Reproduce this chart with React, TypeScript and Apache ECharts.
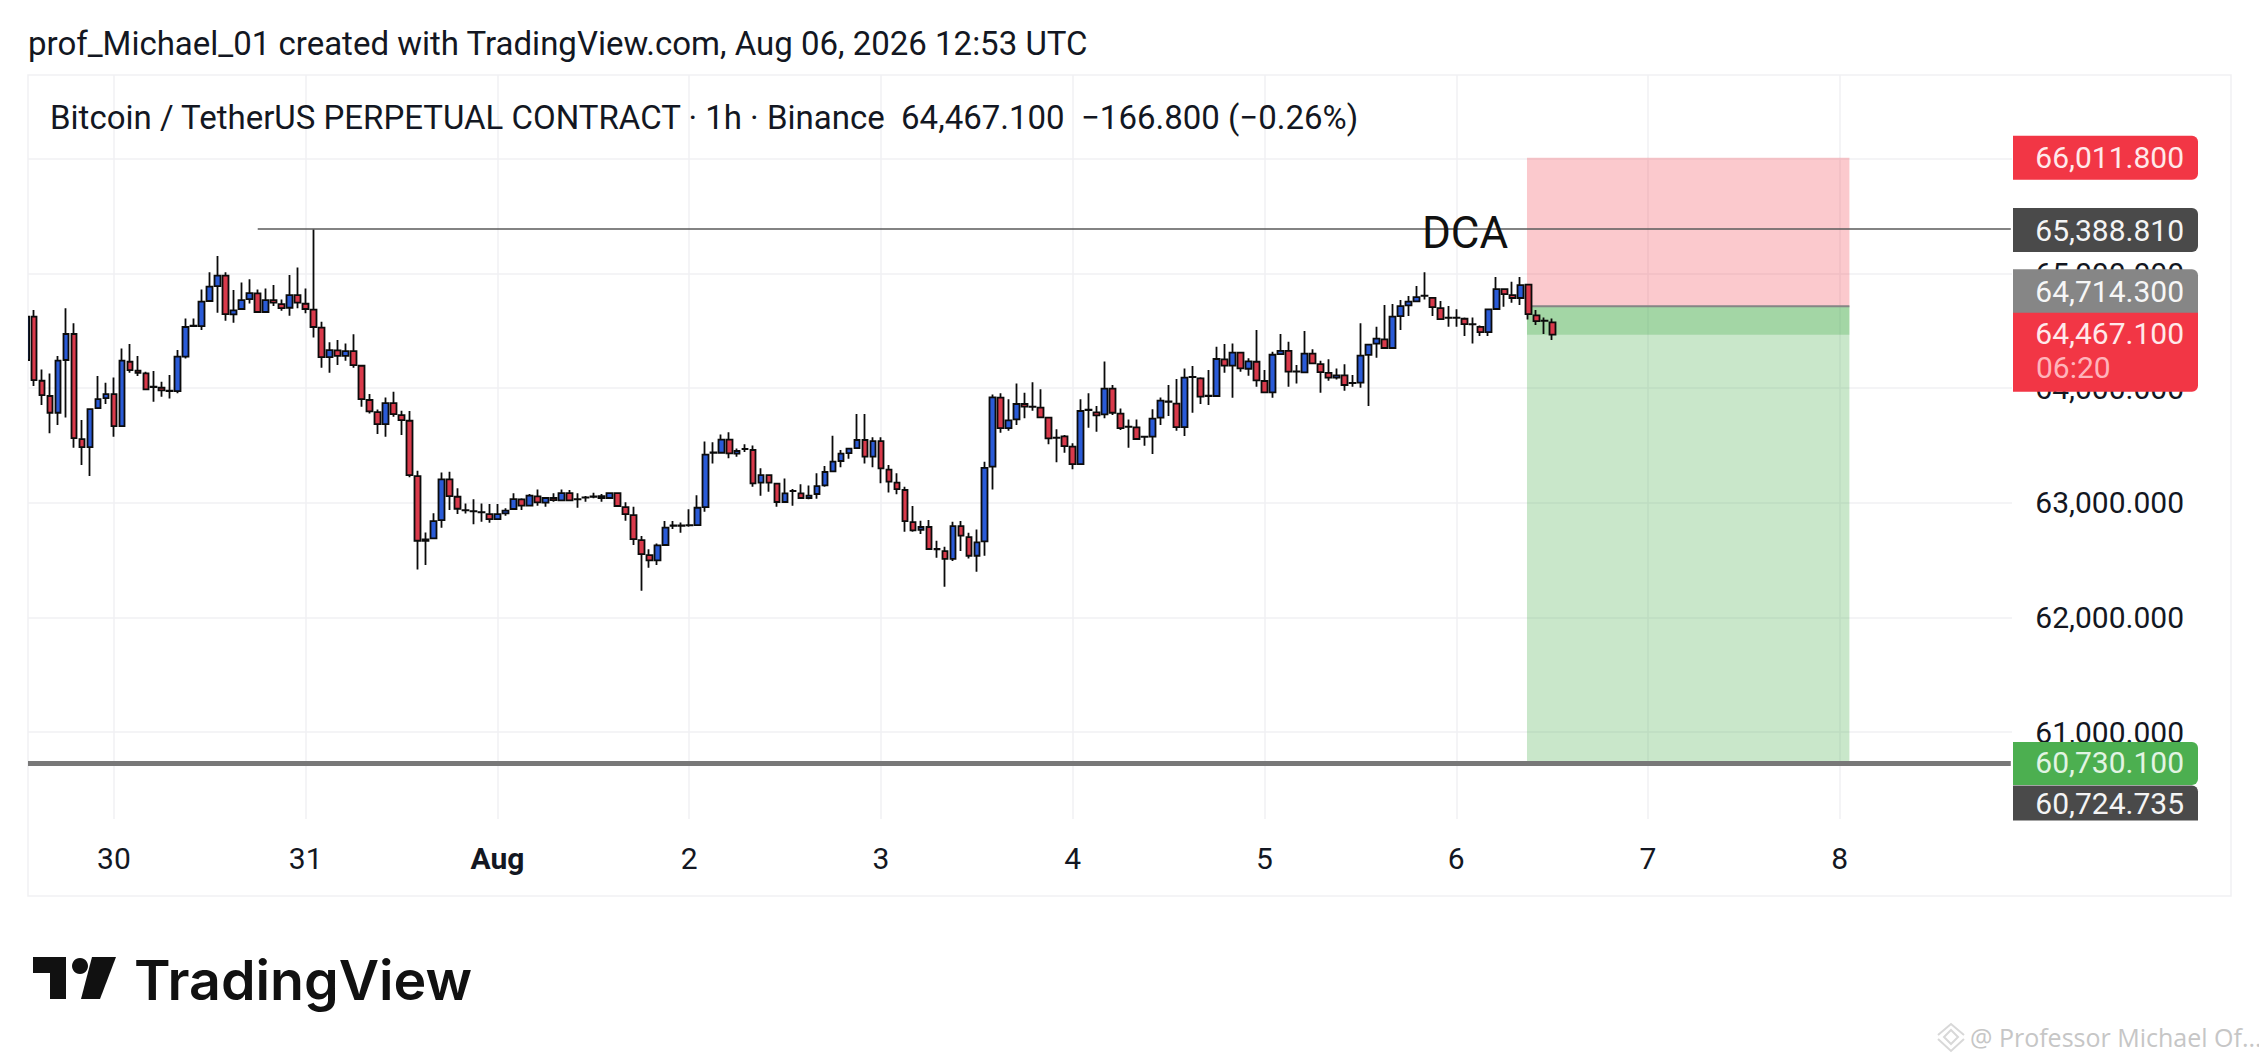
import React, { useEffect, useRef } from "react";
import * as echarts from "echarts";

// ---- data (1h candles; first value is the clipped candle at the left edge) ----
const firstIndex = -1;
const opens = [64246,64624,64065,63932,63786,64246,64473,63556,63486,63827,63914,63949,63670,64231,64153,64129,64013,64004,63978,63975,64275,64542,64542,64761,64891,64982,64644,64691,64778,64827,64665,64769,64734,64702,64813,64737,64685,64528,64272,64330,64283,64324,64196,63897,63792,63687,63870,63766,63716,63233,62681,62689,62849,63204,63053,62937,62928,62919,62902,62858,
62908,62946,63030,62975,63056,63001,63042,63021,63085,63032,63047,63053,63059,63042,63085,62963,62893,62675,62544,62498,62632,62800,62800,62803,62806,62963,63437,63437,63551,63429,63470,63461,63176,63242,63167,63007,63103,63083,63042,63077,63152,63275,63365,63434,63478,63548,63403,63539,63289,63176,63112,62832,62765,62789,62597,62579,62510,62797,62701,62538,62664,
63315,63917,63652,63728,63862,63839,63830,63743,63568,63580,63490,63338,63810,63789,63772,63996,63778,63664,63658,63578,63577,63743,63882,63865,63661,64097,64086,63932,63932,64252,64197,64310,64170,64231,64063,63964,64298,64325,64144,64138,64301,64211,64133,64092,64112,64045,64048,64290,64389,64426,64351,
64629,64723,64757,64807,64789,64699,64615,64615,64606,64560,64536,64490,64691,64865,64813,64787,64903,64635,64590,64574];
const closes = [64624,64071,63940,63786,64240,64473,63565,63486,63818,63905,63949,63670,64240,64158,64135,63990,64010,63981,63975,64275,64534,64546,64755,64886,64982,64647,64679,64769,64830,64665,64769,64746,64699,64813,64746,64691,64534,64272,64333,64283,64324,64202,63905,63798,63687,63870,63774,63722,63242,62669,62669,62841,63204,63059,62948,62934,62925,62916,62858,62902,
62931,63033,62975,63062,63004,63042,63024,63085,63021,63030,63045,63055,63042,63085,62972,62902,62684,62553,62498,62629,62783,62802,62802,62805,62957,63420,63439,63551,63432,63452,63468,63170,63242,63176,63007,63083,63105,63042,63062,63146,63269,63359,63429,63472,63548,63403,63539,63301,63184,63120,62841,62760,62789,62597,62595,62510,62797,62713,62538,62655,63304,
63920,63652,63719,63862,63839,63837,63746,63562,63566,63495,63338,63801,63812,63763,63996,63786,63652,63662,63557,63576,63734,63891,63884,63661,64092,64099,63926,63934,64255,64197,64310,64173,64234,64069,63964,64292,64325,64144,64146,64301,64217,64141,64092,64112,64028,64047,64284,64380,64432,64351,64624,
64717,64755,64795,64805,64708,64603,64613,64613,64560,64558,64490,64688,64865,64821,64787,64900,64647,64586,64588,64467];
const lows = [64246,64019,63853,63606,63678,63745,63481,63329,63233,63827,63862,63577,63670,64135,64106,63984,63882,63926,63911,63955,64260,64542,64507,64761,64659,64589,64571,64691,64740,64665,64665,64717,64676,64633,64697,64653,64443,64179,64135,64202,64240,64179,63838,63780,63600,63577,63751,63591,63222,62419,62457,62681,62782,62937,62902,62907,62814,62835,62826,62849,
62888,62946,62937,62975,62975,62966,63010,63021,63018,62957,63010,63039,63010,63042,62972,62844,62632,62233,62434,62457,62632,62771,62739,62792,62806,62923,63344,63437,63388,63403,63443,63141,63062,63097,62966,63007,62975,63036,63030,63036,63141,63272,63310,63385,63469,63344,63310,63170,63091,63074,62748,62748,62728,62588,62521,62268,62492,62579,62515,62399,62538,
63117,63612,63629,63679,63737,63804,63737,63510,63353,63437,63292,63338,63655,63620,63737,63766,63635,63481,63548,63498,63426,63679,63757,63629,63583,63786,63862,63853,63932,64135,63917,64144,64109,64013,63955,63917,64298,64013,64042,64135,64211,63961,64066,64077,63978,64013,64004,63845,64266,64351,64351,
64507,64629,64757,64775,64629,64603,64536,64536,64455,64391,64455,64455,64688,64711,64746,64725,64600,64551,64472,64420];
const highs = [64624,64682,64164,64129,64281,64697,64566,63722,63818,64106,64048,64094,64347,64385,64281,64144,64150,64057,64115,64333,64609,64609,64862,65011,65153,65011,64857,64923,64950,64862,64871,64900,64775,64987,65054,64871,65388,64580,64400,64420,64391,64470,64196,63949,63815,63920,63969,63803,63801,63280,62742,62908,63265,63271,63126,62995,63030,62995,62989,62989,
62952,63083,63039,63077,63117,63042,63083,63117,63112,63083,63059,63088,63077,63085,63085,63004,62966,62710,62594,62646,62841,62841,62829,62943,63065,63536,63528,63597,63615,63475,63510,63501,63301,63242,63167,63213,63120,63161,63152,63257,63321,63586,63461,63475,63775,63775,63571,63571,63330,63257,63141,62972,62844,62850,62669,62617,62835,62841,62739,62768,63359,
63946,63955,63903,64042,63961,64051,63990,63751,63641,63591,63519,63903,63955,63845,64234,64028,63824,63728,63728,63578,63816,63920,64028,64080,64173,64194,64095,64159,64362,64386,64391,64310,64261,64508,64159,64319,64473,64406,64202,64499,64339,64240,64252,64173,64208,64115,64566,64380,64537,64726,64735,
64769,64804,64891,65011,64789,64760,64717,64688,64618,64618,64548,64696,64970,64865,64929,64970,64903,64682,64618,64609];

const yTickValues = [61000, 62000, 63000, 64000, 65000, 66000];
const xTickIndices = [10, 34, 58, 82, 106, 130, 154, 178, 202, 226];
const xTickLabels = ["30", "31", "Aug", "2", "3", "4", "5", "6", "7", "8"];

const stopPrice = 66011.8;
const entryPrice = 64714.3;
const lastPrice = 64467.1;
const targetPrice = 60730.1;
const dcaPrice = 65388.81;
const supportPrice = 60724.735;
const positionStart = 186.85;
const positionEnd = 227.2;
const dcaStart = 28;
const dcaLabelAt = 179.1;

const tagPrices = [stopPrice, dcaPrice, entryPrice, lastPrice, targetPrice, supportPrice];
const tagTexts = ["66,011.800", "65,388.810", "64,714.300", "64,467.100", "60,730.100", "60,724.735"];
const tagColors = ["#f23645", "#4a4a4a", "#868686", "#f23645", "#4caf50", "#4a4a4a"];
const tagTextColors = ["#ffe9ea", "#f4f4f4", "#f6f6f6", "#ffe9ea", "#e2f4e3", "#f4f4f4"];
const countdownText = "06:20";

const titleText = "prof_Michael_01 created with TradingView.com, Aug 06, 2026 12:53 UTC";
const headerText = "Bitcoin / TetherUS PERPETUAL CONTRACT · 1h · Binance  64,467.100  −166.800 (−0.26%)";
const logoText = "TradingView";
const watermarkText = "@ Professor Michael Of...";
const dcaText = "DCA";

// ---- layout ----
const FONT = "Roboto";
const gridBox = { left: 28, right: 2259 - 2012, top: 75, bottom: 1062 - 819 };
// offset from the price's own coordinate, height and text centre of each price tag
const tagLayout = [
  { top: -22, h: 44, r: [0, 6, 6, 0], textAt: 22 },
  { top: -21, h: 44, r: [0, 6, 6, 0], textAt: 22 },
  { top: -37, h: 44, r: [0, 6, 0, 0], textAt: 22 },
  { top: -22, h: 79, r: [0, 0, 6, 0], textAt: 21 },
  { top: -21, h: 43, r: [0, 6, 6, 0], textAt: 21 },
  { top: 22, h: 35, r: [0, 6, 0, 0], textAt: 18 },
];

function areaSeries(x0: number, x1: number, y0: number, y1: number, fill: string, z: number) {
  return {
    type: "custom",
    silent: true,
    z,
    data: [[x0, y0, x1, y1]],
    encode: { x: [0, 2], y: [1, 3] },
    renderItem: (_: any, api: any) => {
      const a = api.coord([api.value(0), api.value(1)]);
      const b = api.coord([api.value(2), api.value(3)]);
      return { type: "rect", shape: { x: a[0], y: a[1], width: b[0] - a[0], height: b[1] - a[1] }, style: { fill } };
    },
  };
}

function lineSeries(x0: number, x1: number, y: number, stroke: string, lineWidth: number, z: number) {
  return {
    type: "custom",
    silent: true,
    z,
    data: [[x0, y, x1]],
    encode: { x: [0, 2], y: 1 },
    renderItem: (_: any, api: any) => {
      const a = api.coord([api.value(0), api.value(1)]);
      const b = api.coord([api.value(2), api.value(1)]);
      return { type: "line", shape: { x1: a[0], y1: a[1], x2: b[0], y2: b[1] }, style: { stroke, lineWidth } };
    },
  };
}

// the candle cut by the left edge of the plot: a candlestick series does not clip its boxes
function clippedCandleSeries(row: number[]) {
  return {
    type: "custom",
    silent: true,
    z: 3,
    clip: true,
    data: [row],
    encode: { x: 0, y: [1, 2] },
    renderItem: (_: any, api: any) => {
      const a = api.coord([api.value(0), api.value(1)]);
      const b = api.coord([api.value(0), api.value(2)]);
      return {
        type: "rect",
        shape: { x: a[0] - 3.1, y: b[1], width: 6.2, height: a[1] - b[1] },
        style: { fill: "#2a5bd7", stroke: "#0b0b0b", lineWidth: 1.8 },
      };
    },
  };
}

function tagSeries() {
  return {
    type: "custom",
    silent: true,
    z: 20,
    clip: false,
    data: tagPrices.map((p, k) => [0, p, k]),
    encode: { y: 1 },
    renderItem: (_: any, api: any) => {
      const k = api.value(2);
      const l = tagLayout[k];
      const y = api.coord([0, api.value(1)])[1];
      const top = y + l.top;
      const font = `30px ${FONT}`;
      const children: any[] = [
        { type: "rect", shape: { x: 2013, y: top, width: 185, height: l.h, r: l.r }, style: { fill: tagColors[k] } },
        {
          type: "text",
          style: { text: tagTexts[k], x: 2184, y: top + l.textAt, fill: tagTextColors[k], font, align: "right", verticalAlign: "middle" },
        },
      ];
      if (k === 3) {
        children.push({
          type: "text",
          style: { text: countdownText, x: 2036, y: top + 55, fill: "#ffb4ba", font, align: "left", verticalAlign: "middle" },
        });
      }
      return { type: "group", children };
    },
  };
}

function dcaLabelSeries() {
  return {
    type: "custom",
    silent: true,
    z: 12,
    data: [[dcaLabelAt, dcaPrice]],
    renderItem: (_: any, api: any) => {
      const a = api.coord([api.value(0), api.value(1)]);
      return {
        type: "text",
        style: { text: dcaText, x: a[0], y: a[1] + 4, fill: "#111", font: `44px ${FONT}`, align: "center", verticalAlign: "middle" },
      };
    },
  };
}

export default function App() {
  const ref = useRef<HTMLDivElement>(null);
  useEffect(() => {
    const chart = echarts.init(ref.current!, null, { renderer: "svg" });
    const rows = opens.map((o, k) => [firstIndex + k, o, closes[k], lows[k], highs[k]]);
    chart.setOption({
      animation: false,
      backgroundColor: "#fff",
      textStyle: { fontFamily: FONT },
      grid: gridBox,
      xAxis: {
        type: "value",
        min: -0.75,
        max: 247.55,
        axisLine: { show: false },
        axisTick: { show: false, customValues: xTickIndices },
        splitLine: { show: true, lineStyle: { color: "#f1f1f3", width: 1.5 } },
        axisLabel: {
          customValues: xTickIndices,
          margin: 24,
          fontFamily: FONT,
          fontSize: 30,
          color: "#131722",
          formatter: (v: number) => {
            const t = xTickLabels[xTickIndices.indexOf(v)] ?? "";
            return t === "Aug" ? `{b|${t}}` : t;
          },
          rich: { b: { fontFamily: FONT, fontSize: 30, fontWeight: 700, color: "#131722" } },
        },
      },
      yAxis: {
        type: "value",
        position: "right",
        min: 60241,
        max: 66733,
        axisLine: { show: false },
        axisTick: { show: false, customValues: yTickValues },
        splitLine: { show: true, lineStyle: { color: "#f1f1f3", width: 1.5 } },
        axisLabel: {
          customValues: yTickValues,
          margin: 172,
          align: "right",
          fontFamily: FONT,
          fontSize: 30,
          color: "#131722",
          formatter: (v: number) => v.toLocaleString("en-US", { minimumFractionDigits: 3 }),
        },
      },
      series: [
        areaSeries(positionStart, positionEnd, stopPrice, entryPrice, "rgba(242,54,69,0.27)", 1),
        areaSeries(positionStart, positionEnd, entryPrice, targetPrice, "rgba(76,175,80,0.3)", 1),
        areaSeries(positionStart, positionEnd, entryPrice, lastPrice, "rgba(76,175,80,0.3)", 1),
        lineSeries(positionStart, positionEnd, entryPrice, "#858585", 2, 1.5),
        clippedCandleSeries(rows[0]),
        {
          type: "candlestick",
          silent: true,
          z: 3,
          barWidth: 6.2,
          data: rows.slice(1),
          encode: { x: 0, y: [1, 2, 3, 4] },
          itemStyle: {
            color: "#2a5bd7",
            color0: "#d93a4b",
            borderColor: "#0b0b0b",
            borderColor0: "#0b0b0b",
            borderColorDoji: "#0b0b0b",
            borderWidth: 1.8,
          },
        },
        lineSeries(dcaStart, 247.4, dcaPrice, "#5a5a5a", 1.4, 5),
        lineSeries(-0.75, 247.4, supportPrice, "#787878", 5, 5),
        dcaLabelSeries(),
        tagSeries(),
      ],
      graphic: [
        { type: "rect", z: -1, shape: { x: 28, y: 75, width: 2203, height: 821 }, style: { fill: "none", stroke: "#f1f1f3", lineWidth: 1.5 } },
        { type: "text", z: 30, style: { text: titleText, x: 28, y: 43, fill: "#131722", font: `33px ${FONT}`, verticalAlign: "middle" } },
        { type: "text", z: 30, style: { text: headerText, x: 50, y: 117, fill: "#131722", font: `33px ${FONT}`, verticalAlign: "middle" } },
        { type: "polygon", shape: { points: [[33, 957], [66, 957], [66, 999], [50, 999], [50, 973], [33, 973]] }, style: { fill: "#111" } },
        { type: "circle", shape: { cx: 80, cy: 966, r: 8 }, style: { fill: "#111" } },
        { type: "polygon", shape: { points: [[92, 957], [116, 957], [100, 999], [81, 999]] }, style: { fill: "#111" } },
        { type: "text", style: { text: logoText, x: 134, y: 979, fill: "#111", font: `600 55.5px Inter`, verticalAlign: "middle" } },
        { type: "polyline", shape: { points: [[1938, 1035], [1951, 1024], [1964, 1035]] }, style: { fill: "none", stroke: "#d8d8d8", lineWidth: 2 } },
        { type: "polygon", shape: { points: [[1951, 1030], [1958, 1037], [1951, 1044], [1944, 1037]] }, style: { fill: "none", stroke: "#d8d8d8", lineWidth: 2 } },
        { type: "polyline", shape: { points: [[1938, 1039], [1951, 1051], [1964, 1039]] }, style: { fill: "none", stroke: "#d8d8d8", lineWidth: 2 } },
        { type: "text", style: { text: watermarkText, x: 1970, y: 1037, fill: "#c6c6c6", font: `25px "Open Sans"`, verticalAlign: "middle" } },
      ],
    });
    return () => chart.dispose();
  }, []);
  return <div ref={ref} style={{ position: "fixed", left: 0, top: 0, width: 2259, height: 1062 }} />;
}
